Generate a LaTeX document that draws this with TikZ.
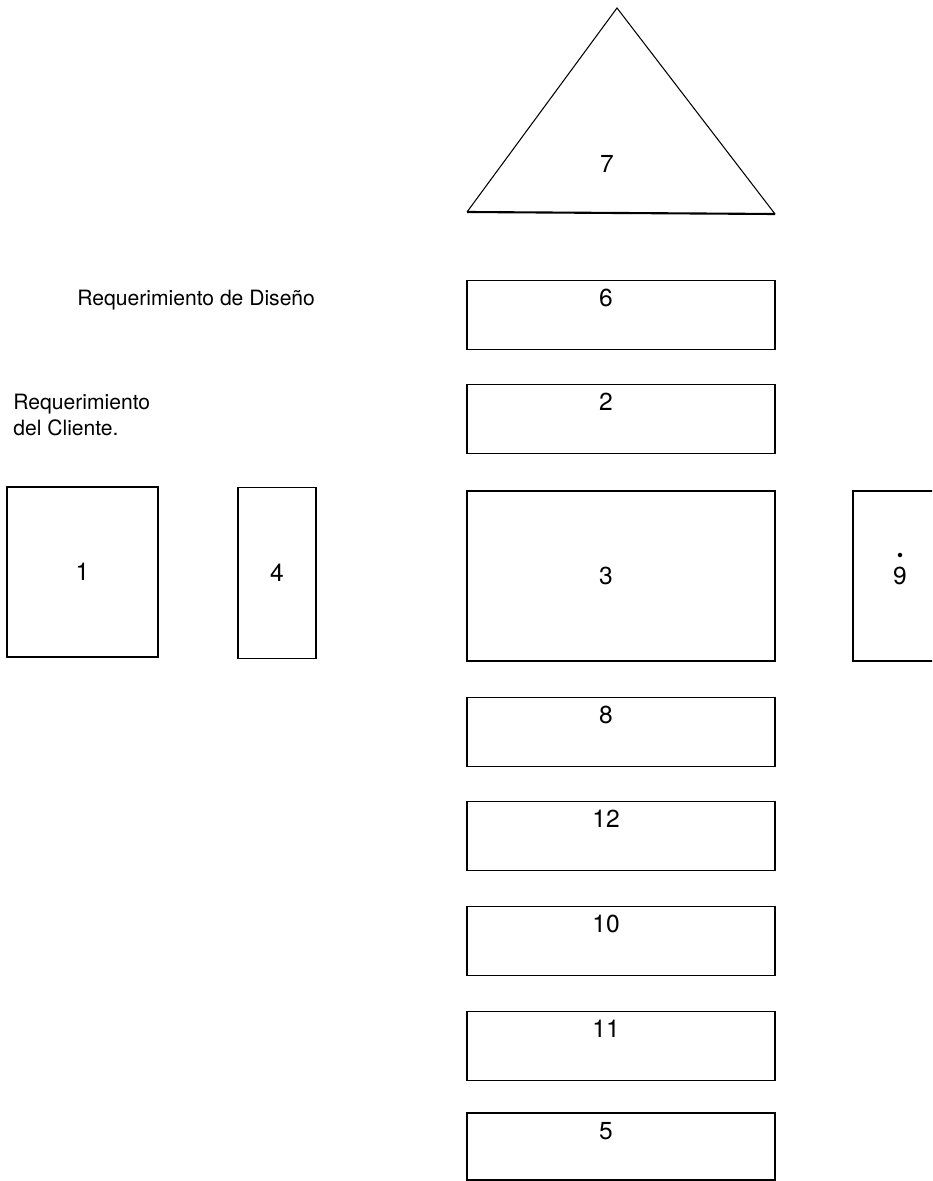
\documentclass[tikz,border=0pt]{standalone}
\usepackage{fontspec}
\setmainfont{TeX Gyre Heros}
\usetikzlibrary{positioning}

\begin{document}
\begin{tikzpicture}[every node/.style={font=\fontsize{12}{15}\selectfont}]
  \tikzstyle{block} = [rectangle, draw, line width=1pt, minimum width=6.16cm, minimum height=1.38cm, inner sep=0pt]
  \tikzstyle{blocktall} = [rectangle, draw, line width=1pt, minimum height=3.4cm, inner sep=0pt]
  \tikzstyle{num} = [font=\fontsize{14}{16}\selectfont]
  \tikzstyle{caption} = [anchor=base west, inner sep=0pt]
  \clip (0,0) rectangle (18.64,-23.62);

  % Top triangle
  \coordinate (apex) at (12.34,-0.16);
  \coordinate (baseleft) at (9.34,-4.24);
  \coordinate (baseright) at (15.50,-4.28);
  \draw[line width=0.6pt] (baseleft) -- (apex) -- (baseright);
  \draw[line width=1.2pt] (baseleft) -- (baseright);
  \node[num] (n7) at (12.14,-3.28) {7};

  % Requirement texts
  \node[caption] (design) at (1.54,-6.12) {Requerimiento de Diseño};
  \node[caption] (client) at (0.26,-8.18) {Requerimiento};
  \node[caption] (client2) at (0.26,-8.70) {del Cliente.};

  % Central column
  \node[block] (b6) at (12.42,-6.30) {};
  \node[block] (b2) at (12.42,-8.38) {};
  \node[blocktall, minimum width=6.16cm] (b3) at (12.42,-11.52) {};
  \node[block] (b8) at (12.42,-14.64) {};
  \node[block] (b12) at (12.42,-16.72) {};
  \node[block] (b10) at (12.42,-18.82) {};
  \node[block] (b11) at (12.42,-20.92) {};
  \node[block, minimum height=1.34cm] (b5) at (12.42,-22.93) {};

  \node[num, anchor=base] (n6) at ([xshift=-0.3cm, yshift=-0.54cm]b6.north) {6};
  \node[num, anchor=base] (n2) at ([xshift=-0.3cm, yshift=-0.54cm]b2.north) {2};
  \node[num] (n3) at ([xshift=-0.3cm]b3.center) {3};
  \node[num, anchor=base] (n8) at ([xshift=-0.3cm, yshift=-0.54cm]b8.north) {8};
  \node[num, anchor=base] (n12) at ([xshift=-0.3cm, yshift=-0.54cm]b12.north) {12};
  \node[num, anchor=base] (n10) at ([xshift=-0.3cm, yshift=-0.54cm]b10.north) {10};
  \node[num, anchor=base] (n11) at ([xshift=-0.3cm, yshift=-0.54cm]b11.north) {11};
  \node[num, anchor=base] (n5) at ([xshift=-0.3cm, yshift=-0.54cm]b5.north) {5};

  % Side boxes
  \node[blocktall, minimum width=3.02cm, num] (b1) at (1.65,-11.44) {1};
  \node[blocktall, minimum width=1.56cm, minimum height=3.42cm, num] (b4) at (5.54,-11.46) {4};
  \node[blocktall, minimum width=1.88cm, num] (b9) at (18.00,-11.52) {9};
  \fill ([yshift=0.42cm]b9.center) circle (0.045);
\end{tikzpicture}
\end{document}
